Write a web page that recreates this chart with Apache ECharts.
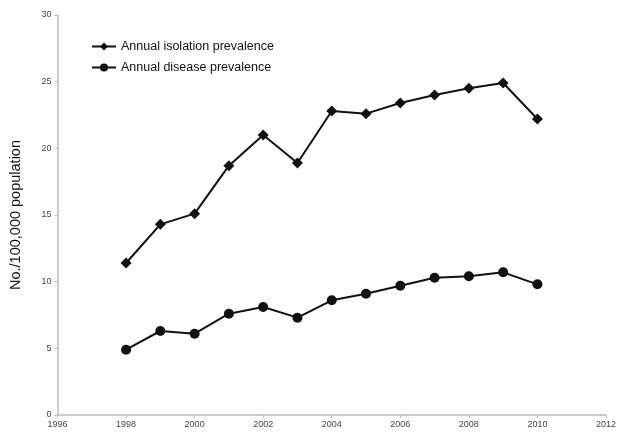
<!DOCTYPE html>
<html>
<head>
<meta charset="utf-8">
<script src="https://cdn.jsdelivr.net/npm/echarts@6/dist/echarts.min.js"></script>
<style>html,body{margin:0;padding:0;background:#fff;}#c{width:619px;height:433px;}</style>
</head>
<body>
<div id="c"></div>
<script>
var years = [1998,1999,2000,2001,2002,2003,2004,2005,2006,2007,2008,2009,2010];
var isolation = [11.4,14.3,15.1,18.7,21.0,18.9,22.8,22.6,23.4,24.0,24.5,24.9,22.2];
var disease = [4.9,6.3,6.1,7.6,8.1,7.3,8.6,9.1,9.7,10.3,10.4,10.7,9.8];
var seriesNames = ['Annual isolation prevalence','Annual disease prevalence'];
var yAxisName = 'No./100,000 population';

function pairs(vals){ return years.map(function(y,i){ return [y, vals[i]]; }); }

var chart = echarts.init(document.getElementById('c'));
var tickLabel = {color:'#444', fontSize:9, fontFamily:'Liberation Sans Narrow, Liberation Sans, Arial'};
chart.setOption({
  animation:false,
  grid:{left:57.5, right:9, top:15, bottom:18, containLabel:false},
  legend:{
    orient:'vertical', left:86, top:35, itemWidth:24, itemHeight:10, itemGap:8,
    textStyle:{fontSize:12.5, color:'#111', fontFamily:'Liberation Sans, Arial'},
    data:seriesNames
  },
  xAxis:{
    type:'value', min:1996, max:2012, interval:2,
    axisLine:{lineStyle:{color:'#bbb', width:1.5}},
    axisTick:{show:true, length:3, lineStyle:{color:'#bbb'}},
    axisLabel:Object.assign({margin:5, formatter:function(v){return String(v);}}, tickLabel),
    splitLine:{show:false}
  },
  yAxis:{
    type:'value', min:0, max:30, interval:5,
    name:yAxisName, nameLocation:'middle', nameGap:34, nameRotate:90,
    nameTextStyle:{fontSize:14.5, color:'#111', fontFamily:'Liberation Sans, Arial'},
    axisLine:{show:true, lineStyle:{color:'#bbb', width:1.5}},
    axisTick:{show:true, length:3, lineStyle:{color:'#bbb'}},
    axisLabel:Object.assign({margin:6}, tickLabel),
    splitLine:{show:false}
  },
  series:[
    {name:seriesNames[0], type:'line', data:pairs(isolation), symbol:'diamond', symbolSize:11,
     itemStyle:{color:'#111'}, lineStyle:{color:'#111', width:2}},
    {name:seriesNames[1], type:'line', data:pairs(disease), symbol:'circle', symbolSize:10,
     itemStyle:{color:'#111'}, lineStyle:{color:'#111', width:2}}
  ]
});
</script>
</body>
</html>
